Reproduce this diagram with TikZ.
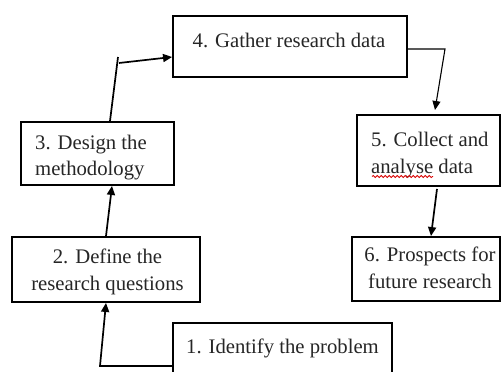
\documentclass[tikz,border=0pt]{standalone}
\usepackage{fontspec}
\setmainfont{Liberation Serif}
\usetikzlibrary{arrows.meta,calc,decorations.pathmorphing}
\tikzset{
  box/.style={draw=black, line width=1.9pt, fill=white, inner sep=0pt, rectangle},
  txt/.style={inner sep=0pt, font=\fontsize{20.7}{26.5}\selectfont, text=black!85},
  conn/.style={line width=1.7pt, draw=black},
  tip/.style={-{Triangle[length=9pt,width=8pt]}}
}
\begin{document}
\begin{tikzpicture}[x=1pt,y=-1pt]
\path[use as bounding box, clip] (0,0) rectangle (501,372);
\fill[white] (0,0) rectangle (501,372);
% boxes
\node[box, minimum width=234pt, minimum height=61pt] (b4) at (290,46.5) {};
\node[box, minimum width=153pt, minimum height=63pt] (b3) at (97.5,153.5) {};
\node[box, minimum width=188pt, minimum height=65pt] (b2) at (106,269.5) {};
\node[box, minimum width=143pt, minimum height=71pt] (b5) at (428.5,150.5) {};
\node[box, minimum width=148pt, minimum height=64pt] (b6) at (426,269) {};
\node[box, minimum width=219pt, minimum height=70pt] (b1) at (282.5,358) {};
% texts (anchor base = baseline of the last line)
\node[txt, anchor=base] (t4) at (289,47) {4. Gather research data};
\node[txt, align=left, anchor=base west] (t3) at (35,175.5) {3. Design the\\methodology};
\node[txt, align=center, anchor=base] (t2) at (107.5,290) {2. Define the\\research questions};
\node[txt, align=left, anchor=base west] (t5) at (371,173) {5. Collect and\\analyse data};
\node[txt, align=center, anchor=base] (t6) at (430,288) {6. Prospects for\\future research};
\node[txt, anchor=base] (t1) at (282.5,353) {1. Identify the problem};
% spell-check squiggle
\draw[red!85!black, line width=0.8pt, decorate, decoration={snake, segment length=4pt, amplitude=1.1pt}] (372,176.5) -- (433,176.5);
% connector coordinates
\coordinate (c1) at (100,366);
\coordinate (c3a) at ($(b3.north)+(12.5,0)$);
\coordinate (c3b) at (118,57);
\coordinate (c3c) at (119,63);
\coordinate (c4) at (445,49);
\coordinate (c5) at (435,110);
\coordinate (c5a) at ($(b5.south)+(8.5,2)$);
\coordinate (c6) at ($(b6.north)+(5,0)$);
\coordinate (c2a) at ($(b2.north)$);
\coordinate (c3s) at ($(b3.south)+(14.5,0)$);
% connectors
\draw[conn, tip] (b1.west |- c1) -- (c1) -- (b2.south);
\draw[conn, tip] (c2a) -- (c3s);
\draw[conn] (c3a) -- (c3b);
\draw[conn, tip] (c3c) -- (b4.west |- c3b);
\draw[conn, line width=1.1pt, tip] (b4.east |- c4) -- (c4) -- (c5);
\draw[conn, tip] (c5a) -- (c6);
\end{tikzpicture}
\end{document}
